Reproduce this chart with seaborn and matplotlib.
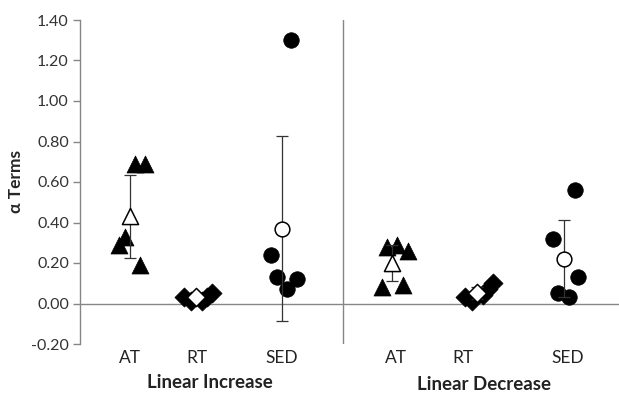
import numpy as np
import pandas as pd
import seaborn as sns
import matplotlib.pyplot as plt

# Values
groups = ["Linear Increase", "Linear Decrease"]
categories = ["AT", "RT", "SED"]

inc_at = [0.69, 0.69, 0.33, 0.29, 0.19]
inc_rt = [0.03, 0.01, 0.01, 0.03, 0.05]
inc_sed = [1.30, 0.24, 0.13, 0.12, 0.07]
dec_at = [0.28, 0.29, 0.26, 0.08, 0.09]
dec_rt = [0.03, 0.01, 0.04, 0.07, 0.10]
dec_sed = [0.56, 0.32, 0.13, 0.05, 0.03]

# Means and SD whiskers as drawn
means = [0.43, 0.03, 0.37, 0.20, 0.05, 0.22]
sds = [0.205, 0.0, 0.455, 0.09, 0.03, 0.19]

sns.set_theme(style="white")
plt.rcParams["font.family"] = ["Lato", "DejaVu Sans"]

# Layout (x in axis units, 1 unit ~ 67 px)
px = 67.4
centers = [0.742, 1.72, 3.0, 4.63, 5.89, 7.18]
label_x = [0.742, 1.74, 3.0, 4.69, 5.68, 7.24]
divider_x = 3.90
offsets = [
    [5, 15, -5, -11, 10],
    [-12, -5, 6, 11, 16],
    [9, -11, -5, 15, 5],
    [-5, 5, 16, -10, 11],
    [-12, -5, 6, 11, 16],
    [11, -11, 14, -6, 5],
]
markers = {"AT": "^", "RT": "D", "SED": "o"}
sizes = {"AT": 150, "RT": 95, "SED": 125}

series = [inc_at, inc_rt, inc_sed, dec_at, dec_rt, dec_sed]
rows = []
for i, vals in enumerate(series):
    cat = categories[i % 3]
    for v, off in zip(vals, offsets[i]):
        rows.append({"x": centers[i] + off / px, "value": v, "cat": cat,
                     "group": groups[i // 3]})
df = pd.DataFrame(rows)

fig = plt.figure(figsize=(6.19, 3.94), dpi=100)
ax = fig.add_axes([80 / 619, 1 - 344 / 394, 1 - 80 / 619, (344 - 20) / 394])

grey = "#868686"
ax.axhline(0, color=grey, lw=1, zorder=1)
ax.plot([divider_x, divider_x], [-0.2, 1.4], color=grey, lw=1, zorder=1)

for cat in categories:
    sub = df[df["cat"] == cat]
    sns.scatterplot(data=sub, x="x", y="value", marker=markers[cat], s=sizes[cat],
                    color="black", edgecolor="black", linewidth=0.5, ax=ax,
                    legend=False, zorder=3)

for i in range(6):
    cat = categories[i % 3]
    ax.errorbar(centers[i], means[i], yerr=sds[i], fmt="none", ecolor="#333333",
                elinewidth=0.9, capsize=4, capthick=0.9, zorder=4)
    ax.scatter(centers[i], means[i], marker=markers[cat], s=sizes[cat] * 0.9,
               facecolor="white", edgecolor="black", linewidth=1.1, zorder=5)

ax.set_xlim(0, 8)
ax.set_ylim(-0.2, 1.4)
ticks = np.arange(-0.2, 1.41, 0.2)
ax.set_yticks(ticks)
ax.set_yticklabels([f"{t:.2f}" for t in ticks], fontsize=11.5, color="#333333")
ax.set_xticks([])
ax.set_xlabel("")
ax.set_ylabel("α Terms", fontsize=12.5, fontweight="bold", labelpad=5)
ax.tick_params(axis="y", direction="out", length=5, color=grey, width=1, left=True, pad=3)

for side in ["top", "right", "bottom"]:
    ax.spines[side].set_visible(False)
ax.spines["left"].set_color(grey)
ax.spines["left"].set_linewidth(1)

for i in range(6):
    ax.text(label_x[i], -0.2 - 14 / 202.5, categories[i % 3], ha="center",
            va="center", fontsize=12.5, color="#222222")
ax.text(1.93, -0.2 - 39 / 202.5, groups[0], ha="center", va="center",
        fontsize=13.5, fontweight="bold", color="#222222")
ax.text(5.99, -0.2 - 40 / 202.5, groups[1], ha="center", va="center",
        fontsize=13.5, fontweight="bold", color="#222222")

fig.savefig("out.png", dpi=100)
